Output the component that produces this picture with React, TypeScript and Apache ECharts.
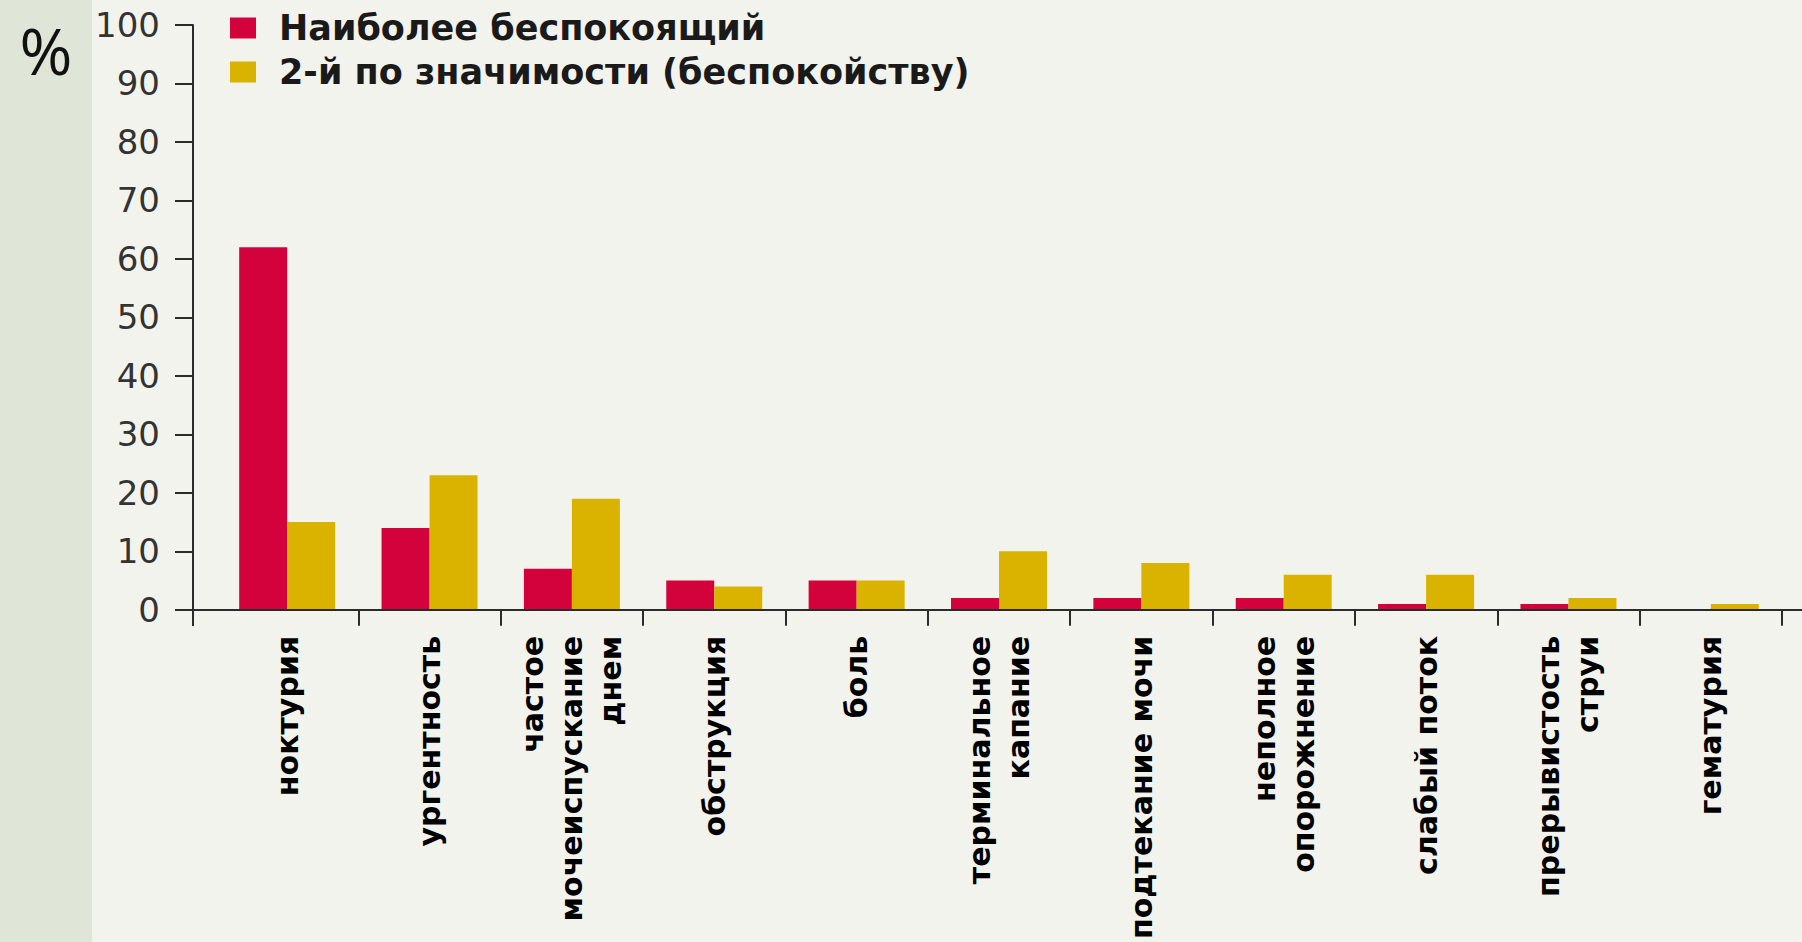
import React, { useEffect, useRef } from "react";
import * as echarts from "echarts";

const categories = [
  "ноктурия",
  "ургентность",
  "частое\nмочеиспускание\nднем",
  "обструкция",
  "боль",
  "терминальное\nкапание",
  "подтекание мочи",
  "неполное\nопорожнение",
  "слабый поток",
  "прерывистость\nструи",
  "гематурия",
];
const seriesNames = ["Наиболее беспокоящий", "2-й по значимости (беспокойству)"];
const mostBothersome = [62, 14, 7, 5, 5, 2, 2, 2, 1, 1, 0];
const secondBothersome = [15, 23, 19, 4, 5, 10, 8, 6, 6, 2, 1];
const yMin = 0;
const yMax = 100;
const yInterval = 10;

const RED = "#d4023c";
const YELLOW = "#d9b300";
const AXIS = "#2b2b2b";

export default function App() {
  const ref = useRef<HTMLDivElement>(null);

  useEffect(() => {
    if (!ref.current) return;
    const chart = echarts.init(ref.current, undefined, { renderer: "svg" });
    chart.setOption({
      animation: false,
      backgroundColor: "#f3f3ee",
      grid: { left: 216, right: 20, top: 25, bottom: 332, containLabel: false },
      legend: {
        orient: "vertical",
        left: 225,
        top: 4,
        icon: "rect",
        itemWidth: 26,
        itemHeight: 21,
        itemGap: 6,
        selectedMode: false,
        textStyle: {
          fontFamily: "DejaVu Sans",
          fontWeight: "bold",
          fontSize: 35,
          color: "#1a1a1a",
          lineHeight: 38,
          padding: [0, 0, 0, 18],
        },
        data: seriesNames,
      },
      xAxis: {
        type: "category",
        data: categories,
        boundaryGap: true,
        axisLine: { show: false },
        axisTick: {
          show: true,
          length: 16,
          interval: (index: number) => index !== 0,
          lineStyle: { color: AXIS, width: 2 },
        },
        axisLabel: {
          interval: 0,
          rotate: 90,
          margin: 26,
          fontFamily: "DejaVu Sans",
          fontWeight: "bold",
          fontSize: 30,
          lineHeight: 39,
          color: "#000",
        },
      },
      yAxis: {
        type: "value",
        min: yMin,
        max: yMax,
        interval: yInterval,
        offset: 23,
        splitLine: { show: false },
        axisLine: { show: true, lineStyle: { color: AXIS, width: 2 } },
        axisTick: { show: true, length: 18, lineStyle: { color: AXIS, width: 2 } },
        axisLabel: {
          margin: 33,
          fontFamily: "DejaVu Sans",
          fontSize: 34,
          color: "#333",
        },
      },
      series: [
        {
          name: seriesNames[0],
          type: "bar",
          data: mostBothersome,
          barWidth: 48,
          barGap: "0%",
          itemStyle: { color: RED },
        },
        {
          name: seriesNames[1],
          type: "bar",
          data: secondBothersome,
          barWidth: 48,
          barGap: "0%",
          itemStyle: { color: YELLOW },
        },
      ],
      graphic: [
        {
          type: "rect",
          left: 0,
          top: 0,
          shape: { width: 92, height: 942 },
          style: { fill: "#dfe6d8" },
          z: -10,
          silent: true,
        },
        {
          type: "text",
          x: 46,
          y: 50,
          style: {
            text: "%",
            fontFamily: "Open Sans",
            fontSize: 64,
            fill: "#111",
            align: "center",
            verticalAlign: "middle",
          },
        },
        {
          type: "line",
          shape: { x1: 192, y1: 610, x2: 1802, y2: 610 },
          style: { stroke: AXIS, lineWidth: 2 },
          z: 5,
        },
        {
          type: "line",
          shape: { x1: 193, y1: 610, x2: 193, y2: 626 },
          style: { stroke: AXIS, lineWidth: 2 },
          z: 5,
        },
      ],
    });
    return () => chart.dispose();
  }, []);

  return (
    <div
      ref={ref}
      style={{ position: "fixed", left: 0, top: 0, width: 1802, height: 942 }}
    />
  );
}
